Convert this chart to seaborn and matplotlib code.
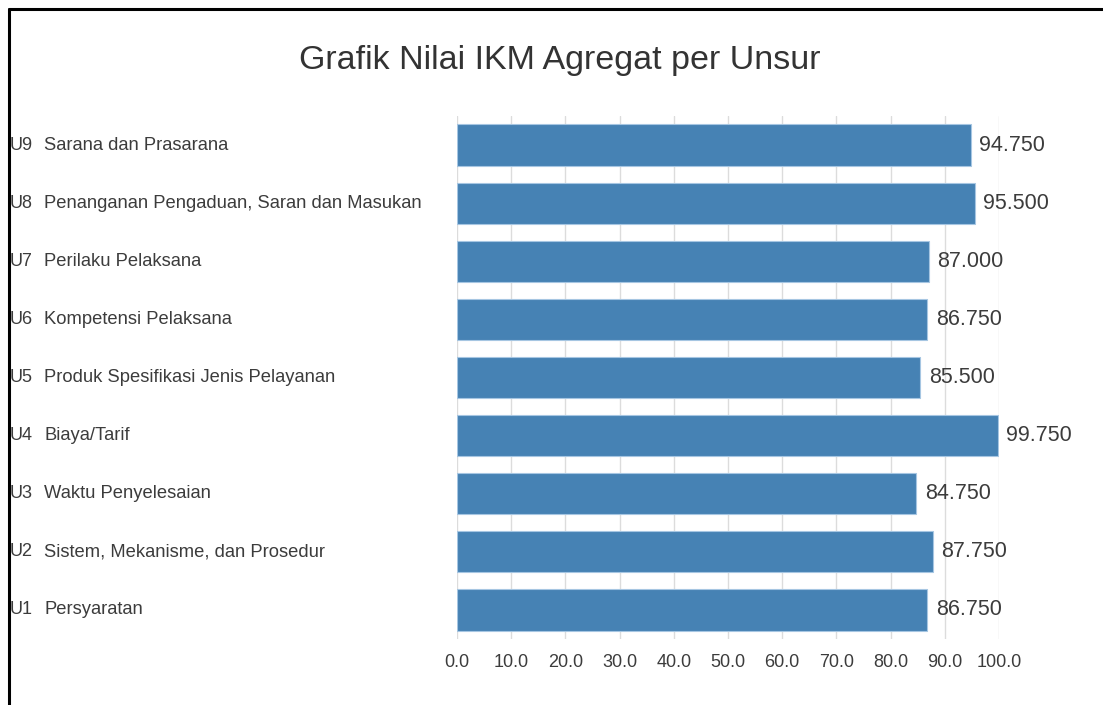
"""
Horizontal bar chart of the aggregated IKM score per element (unsur).
"""

import matplotlib
matplotlib.use('Agg')
import matplotlib.pyplot as plt
import matplotlib.transforms as mtransforms
from matplotlib.lines import Line2D
import pandas as pd
import seaborn as sns

# top to bottom as drawn
codes = ['U9', 'U8', 'U7', 'U6', 'U5', 'U4', 'U3', 'U2', 'U1']
names = ['Sarana dan Prasarana',
         'Penanganan Pengaduan, Saran dan Masukan',
         'Perilaku Pelaksana',
         'Kompetensi Pelaksana',
         'Produk Spesifikasi Jenis Pelayanan',
         'Biaya/Tarif',
         'Waktu Penyelesaian',
         'Sistem, Mekanisme, dan Prosedur',
         'Persyaratan']
values = [94.75, 95.5, 87.0, 86.75, 85.5, 99.75, 84.75, 87.75, 86.75]
x_ticks = [0, 10, 20, 30, 40, 50, 60, 70, 80, 90, 100]

TEXT = '#3c3c3c'
BAR = '#4682b4'


def main():
    sns.set_style('white')
    plt.rcParams['font.family'] = ['Liberation Sans', 'DejaVu Sans']

    df = pd.DataFrame({'code': codes, 'name': names, 'value': values})

    fig = plt.figure(figsize=(11.03, 7.05), dpi=100)
    ax = fig.add_axes([0.4143, 1 - 639 / 705, 0.4914, 523 / 705])

    sns.barplot(data=df, x='value', y='code', order=codes, orient='h',
                color=BAR, saturation=1, width=0.71, edgecolor='#a6c6e2',
                linewidth=0.8, ax=ax, zorder=3)

    ax.set_xlim(0, 100)
    ax.set_xticks(x_ticks)
    ax.set_xticklabels([f'{t:.1f}' for t in x_ticks], color=TEXT,
                       fontsize=13)
    ax.tick_params(axis='x', length=0, pad=10.5)
    ax.grid(axis='x', color='#dcdcdc', linewidth=1, zorder=0)
    ax.set_axisbelow(True)
    for s in ax.spines.values():
        s.set_visible(False)
    ax.set_xlabel('')
    ax.set_ylabel('')

    # frame edges of the screenshot (drawn first so text sits on top)
    fig.add_artist(Line2D([8.5 / 1103, 8.5 / 1103], [0, 1 - 8.5 / 705],
                          transform=fig.transFigure, color='black', lw=2.2,
                          zorder=0))
    fig.add_artist(Line2D([8.5 / 1103, 1], [1 - 8.5 / 705, 1 - 8.5 / 705],
                          transform=fig.transFigure, color='black', lw=2.2,
                          zorder=0))

    # category labels: code right aligned, name left aligned
    ax.set_yticklabels([])
    ax.tick_params(axis='y', length=0)
    trans = mtransforms.blended_transform_factory(fig.transFigure,
                                                  ax.transData)
    for i, (c, n) in enumerate(zip(codes, names)):
        ax.text(32.5 / 1103, i, c, transform=trans, ha='right', va='center',
                fontsize=13, color=TEXT, clip_on=False)
        ax.text(44.5 / 1103, i, n, transform=trans, ha='left', va='center',
                fontsize=13.2, color=TEXT, clip_on=False)

    # value labels at the end of each bar
    for bar, v in zip(ax.patches, values):
        ax.text(bar.get_width() + 1.6, bar.get_y() + bar.get_height() / 2,
                f'{v:.3f}', ha='left', va='center', fontsize=15.5,
                color=TEXT)

    fig.text(560 / 1103, 1 - 61 / 705, 'Grafik Nilai IKM Agregat per Unsur',
             ha='center', va='center', fontsize=24.5, color='#333333')

    fig.savefig('out.png', dpi=100)


main()
